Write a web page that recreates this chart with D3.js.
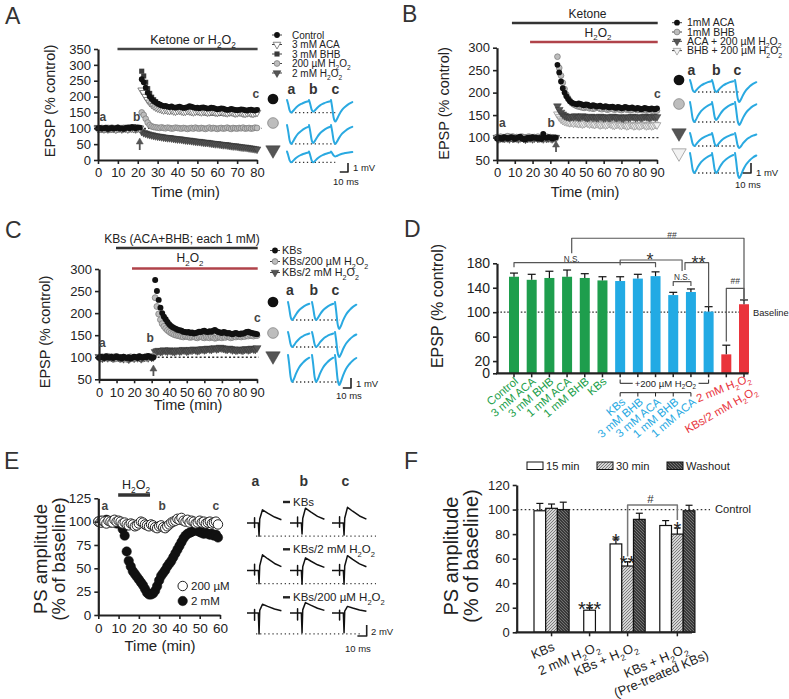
<!DOCTYPE html>
<html><head><meta charset="utf-8">
<script src="https://cdn.jsdelivr.net/npm/d3@7/dist/d3.min.js"></script>
<style>html,body{margin:0;padding:0;background:#fff;}svg{display:block}</style>
</head><body>
<svg id="fig" width="789" height="699" viewBox="0 0 789 699"></svg>
<script>
// ================= DATA =================
// Panel A : EPSP (% control), one value per minute (0..80)
const aControl = [100,101,99,100,102,98,100,101,99,100,103,99,100,98,101,102,100,104,101,100,103,102,
255,245,228,212,200,192,186,182,178,175,172,170,171,168,167,169,166,165,167,168,
166,164,165,167,170,168,166,164,165,163,165,166,164,162,163,165,164,162,160,161,
163,162,160,158,159,161,160,158,157,158,160,159,157,156,158,159,157,156,158];
const aACA3 = [99,100,101,98,100,102,99,100,101,97,100,101,99,102,100,98,101,100,99,102,101,100,
220,212,200,190,182,176,171,167,164,162,160,158,159,157,156,158,155,154,156,157,
155,153,154,156,155,153,152,154,155,153,152,154,153,151,152,154,153,151,150,152,
153,151,150,149,151,152,150,148,149,151,150,148,147,149,150,148,147,149,150];
const aBHB3 = [101,99,100,102,99,100,98,101,100,102,99,100,101,100,99,103,101,99,105,102,100,101,
280,265,245,225,210,198,190,184,178,174,170,167,165,163,161,160,158,157,156,155,
156,154,153,155,154,152,151,153,152,150,151,150,149,151,150,148,149,150,148,147,
149,150,148,147,149,150,151,152,150,153,155,154,152,153,155,156,154,155,157];
const aH200 = [100,98,101,100,99,101,100,102,98,100,101,99,100,101,98,100,102,100,99,101,100,99,
150,142,130,118,110,106,104,103,102,101,103,101,100,102,101,99,100,102,101,100,
99,101,100,98,100,101,99,102,100,99,101,100,98,100,102,99,101,100,98,100,
101,99,100,102,100,98,101,100,99,101,100,102,99,100,101,99,100,102,101];
const aH2m = [102,100,99,101,100,98,101,100,99,102,100,101,98,100,102,99,101,103,100,98,101,100,
90,86,84,82,80,79,77,76,75,74,73,72,71,70,70,69,68,67,66,66,
65,64,63,62,62,61,60,59,58,58,57,56,55,55,54,53,52,51,51,50,
49,48,48,47,46,45,44,44,43,42,41,40,40,39,38,37,36,35,34];
const aLegend = ["Control","3 mM ACA","3 mM BHB","200 µM  H{2}O{2}","2 mM  H{2}O{2}"];

// Panel B : minute 0..90
const bACA1 = [98,100,99,97,101,100,98,99,101,100,97,99,100,102,98,97,96,99,100,98,101,99,100,98,99,97,108,100,99,101,100,98,99,100,
262,245,225,210,200,192,186,181,178,176,175,174,176,175,173,172,174,173,171,170,
172,171,169,170,171,169,168,170,169,167,168,169,167,166,168,167,165,166,168,167,
165,166,167,165,164,166,165,163,164,166,165,164,163,165,164,163,165];
const bBHB1 = [101,99,102,100,98,101,103,100,99,102,100,101,99,98,102,100,99,101,102,100,98,101,100,102,99,101,100,98,102,100,101,99,100,98,
280,255,238,222,208,196,188,182,177,174,172,170,169,168,167,166,168,167,165,166,
164,165,167,166,164,163,165,164,162,163,165,164,162,163,164,162,161,163,164,162,
163,161,162,164,163,161,162,163,161,162,160,161,162,160,159,161,160];
const bACAH = [100,97,99,101,98,100,99,97,100,98,99,101,97,99,100,98,96,98,100,99,97,99,101,98,100,99,97,100,98,99,101,97,99,100,
170,162,156,152,149,147,146,145,147,146,148,147,145,146,148,147,145,144,146,147,
145,146,144,145,147,146,144,145,146,144,145,147,146,144,145,146,144,143,145,146,
144,145,147,146,144,145,146,144,145,147,146,145,144,146,147,145,146];
const bBHBH = [99,101,100,98,102,99,100,103,101,99,100,98,101,102,100,99,101,100,98,102,101,99,100,101,98,100,102,99,101,100,98,101,100,99,
152,146,141,138,136,135,134,133,134,132,133,132,131,132,130,131,133,132,130,131,
130,129,131,130,128,129,130,128,129,131,130,128,127,129,130,128,127,129,128,126,
127,129,128,126,127,128,126,127,129,128,126,127,128,126,127,129,128];
const bLegend = ["1mM ACA","1mM BHB","ACA + 200 µM H{2}O{2}","BHB + 200 µM H{2}O{2}"];

// Panel C : minute 0..90
const cKBs = [99,101,100,98,102,100,99,101,98,100,102,99,100,97,101,99,98,100,97,99,101,100,98,102,100,99,101,100,103,101,99,100,
275,250,230,212,200,192,186,180,175,171,168,166,164,162,161,160,158,157,156,157,
155,156,154,155,156,158,157,159,160,158,157,159,158,160,162,159,157,156,155,157,
156,154,155,153,152,154,155,153,152,154,153,155,157,158,156,155,154,153,152];
const cKBs200 = [100,98,101,99,100,102,98,100,99,101,97,100,99,98,100,96,98,99,101,97,99,98,100,101,99,100,98,102,100,99,101,102,
235,215,198,185,176,170,165,161,158,155,153,151,150,149,148,147,146,148,147,146,
145,146,147,145,144,146,147,145,144,146,145,144,146,145,143,144,146,145,144,146,
145,147,146,144,145,147,146,148,147,146,148,147,149,148,150,149,148,150,149];
const cKBs2m = [101,99,98,100,101,99,102,100,98,99,101,100,98,99,97,100,98,96,99,100,98,101,99,100,97,99,100,101,99,102,100,101,
112,114,115,113,114,116,115,114,116,115,114,113,115,116,114,115,117,116,114,115,
117,116,118,117,115,116,118,119,117,118,120,119,118,120,121,119,120,122,121,120,
119,118,120,119,117,118,116,117,118,117,116,118,119,117,118,120,119,118,121];
const cLegend = ["KBs","KBs/200 µM H{2}O{2}","KBs/2 mM H{2}O{2}"];

// EPSP trace amplitudes (mV) [row][a,b,c]
const aTraceAmp = [[1.4,1.3,2.4],[2.1,2.0,2.1],[1.2,1.2,0.55]];
const bTraceAmp = [[1.2,1.2,2.2],[2.0,1.8,2.3],[1.3,1.3,1.5],[2.0,2.0,2.5]];
const cTraceAmp = [[1.8,1.8,2.7],[1.5,1.5,2.5],[2.7,2.7,3.0]];
// normalised EPSP waveform (time fraction, depth fraction)
const epspShape = [[0,0],[0.05,0.3],[0.12,0.8],[0.2,1],[0.27,0.9],[0.38,0.68],[0.52,0.46],[0.68,0.3],[0.84,0.18],[1,0.1]];

// Panel D : bar chart
const dLabels = ["Control","3 mM ACA","3 mM BHB","1 mM ACA","1 mM BHB","KBs","KBs","3 mM BHB","3 mM ACA","1 mM BHB","1 mM ACA","","2 mM H{2}O{2}","KBs/2 mM H{2}O{2}"];
const dGroup  = ["g","g","g","g","g","g","b","b","b","b","b","b","r","r"];
const dValues = [158,153,156,158,156,152,151,155,159,128,133,101,31,113];
const dErrors = [6,9,11,11,7,6,7,7,7,4.5,5,8,15,7];
const dTicks  = [0,20,60,100,140,180];

// Panel E : PS amplitude (% of baseline), minute 0..59
const e200uM = [100,99,101,100,98,101,100,99,102,100,101,100,98,99,97,96,98,97,95,96,
98,100,99,97,96,95,97,96,94,93,95,96,94,93,95,97,99,100,101,103,
102,104,101,100,102,99,101,100,98,99,101,99,100,98,99,100,98,99,100,97];
const e2mM = [100,101,99,100,102,100,99,101,100,98,99,97,92,85,68,58,52,47,44,41,
38,35,32,28,24,22,22,23,26,31,37,42,45,48,52,55,58,62,66,70,
74,78,82,85,87,88,89,90,91,90,89,88,87,88,87,86,87,85,86,83];
// PS traces (mV) [row][a,b,c]
const eRowLabels = ["KBs","KBs/2 mM H{2}O{2}","KBs/200 µM H{2}O{2}"];
const ePeak  = [[2.4,2.7,2.85],[2.85,2.3,2.7],[1.6,1.9,1.2]];
const eSpike = [[2.4,2.0,2.2],[2.4,2.5,2.5],[3.8,3.6,3.6]];
const psShape = [[0,0],[0.22,0],[0.22,0.4],[0.22,-0.35],[0.22,0],[0.33,0],[0.35,-1],[0.37,0.3],[0.45,1],[0.6,0.75],[0.8,0.45],[1,0.25]];

// Panel F : grouped bars
const fGroups = ["KBs","2 mM H{2}O{2}","KBs + H{2}O{2}","KBs + H{2}O{2}|(Pre-treated KBs)"];
const fSeries = ["15 min","30 min","Washout"];
const fValues = [[99,101,100],[18],[72,54,92],[87,80,99]];
const fErrors = [[6,3.5,6],[2],[4,3.5,5],[4,5,4.5]];
const fStars  = [[null,null,null],["***"],["*","**",null],[null,"*",null]];
const fTicks  = [0,20,40,60,80,100,120];

// ================= DRAWING =================
const svg = d3.select('#fig');
const FONT = "'Liberation Sans', Arial, Helvetica, sans-serif";
const INK = '#222';
const CYAN = '#29a9e1';

function rich(sel, str, fs) {
  const parts = str.split(/(\{[^}]*\})/).filter(p => p.length);
  let shifted = false; const sh = fs * 0.3;
  parts.forEach(p => {
    if (p[0] === '{') {
      sel.append('tspan').attr('dy', shifted ? 0 : sh).attr('font-size', fs * 0.66).text(p.slice(1, -1));
      shifted = true;
    } else {
      sel.append('tspan').attr('dy', shifted ? -sh : 0).attr('font-size', fs).text(p);
      shifted = false;
    }
  });
  return sel;
}
function text(x, y, str, fs, o = {}) {
  const t = svg.append('text').attr('x', x).attr('y', y)
    .attr('font-family', FONT).attr('font-size', fs)
    .attr('fill', o.fill || INK).attr('text-anchor', o.anchor || 'start');
  if (o.weight) t.attr('font-weight', o.weight);
  if (o.transform) t.attr('transform', o.transform);
  rich(t, str, fs);
  return t;
}
function line(x1, y1, x2, y2, o = {}) {
  const l = svg.append('line').attr('x1', x1).attr('y1', y1).attr('x2', x2).attr('y2', y2)
    .attr('stroke', o.stroke || INK).attr('stroke-width', o.sw || 1);
  if (o.dash) l.attr('stroke-dasharray', o.dash);
  return l;
}
function path(d, o = {}) {
  return svg.append('path').attr('d', d).attr('fill', o.fill || 'none')
    .attr('stroke', o.stroke || INK).attr('stroke-width', o.sw || 1)
    .attr('stroke-linejoin', 'round').attr('stroke-linecap', o.cap || 'butt');
}
const symTypes = {circle: d3.symbolCircle, tri: d3.symbolTriangle, square: d3.symbolSquare};
function sym(g, s, x, y, size) {
  g.append('path').attr('d', d3.symbol().type(symTypes[s.sym]).size(size)())
    .attr('transform', `translate(${x},${y})` + (s.sym === 'tri' ? ' rotate(180)' : ''))
    .attr('fill', s.fill).attr('stroke', s.stroke || 'none').attr('stroke-width', s.sw || 0.7);
}
function styleAxis(g, fs) {
  g.attr('font-family', FONT).attr('font-size', fs);
  g.select('.domain').attr('stroke', INK).attr('stroke-width', 2.2);
  g.selectAll('.tick line').attr('stroke', INK).attr('stroke-width', 1.6);
  g.selectAll('.tick text').attr('fill', INK);
}
function panelLetter(x, y, L) { text(x, y, L, 23, {fill: '#333'}); }
function yLabel(x, y, str, fs) { text(0, 0, str, fs, {anchor: 'middle', transform: `translate(${x},${y}) rotate(-90)`}); }

function tsPanel(o) {
  const x = d3.scaleLinear().domain(o.xd).range(o.xr);
  const y = d3.scaleLinear().domain(o.yd).range(o.yr);
  const g = svg.append('g');
  if (o.dot) g.append('line').attr('x1', x(o.dot[0])).attr('x2', x(o.dot[1]))
      .attr('y1', y(100)).attr('y2', y(100)).attr('stroke', '#333')
      .attr('stroke-width', 1.3).attr('stroke-dasharray', '2,2.2');
  o.series.slice().reverse().forEach(s => s.vals.forEach((v, i) => sym(g, s, x(i), y(v), o.size)));
  svg.append('g').attr('transform', `translate(0,${o.yr[0]})`)
    .call(d3.axisBottom(x).tickValues(o.xt).tickSize(4).tickSizeOuter(0).tickPadding(4)).call(styleAxis, o.fs);
  svg.append('g').attr('transform', `translate(${o.xr[0]},0)`)
    .call(d3.axisLeft(y).tickValues(o.yt).tickSize(4).tickSizeOuter(0).tickPadding(3)).call(styleAxis, o.fs);
  return {x, y};
}
function arrow(x, yTip, yBase) {
  line(x, yTip + 4, x, yBase, {stroke: '#555', sw: 1.8});
  path(`M${x - 3.5},${yTip + 6}L${x},${yTip}L${x + 3.5},${yTip + 6}Z`, {fill: '#555', stroke: '#555', sw: 0.5});
}
function legend(items, xs, ys, xt, fs) {
  const g = svg.append('g');
  items.forEach((s, i) => {
    g.append('line').attr('x1', xs - 5).attr('x2', xs + 5).attr('y1', ys[i]).attr('y2', ys[i]).attr('stroke', '#444').attr('stroke-width', 1);
    sym(g, s, xs, ys[i], 26);
    text(xt, ys[i] + fs * 0.36, s.label, fs);
  });
}
function epspTraces(o) {
  const w = o.dur * o.pxMs;
  const gen = d3.line().curve(d3.curveMonotoneX);
  o.amps.forEach((row, r) => {
    line(o.x0[0] + 0.2 * w, o.top[r] + row[0] * o.pxMv, o.x0[2] + 0.2 * w, o.top[r] + row[0] * o.pxMv, {stroke: '#333', sw: 1.3, dash: '1.3,2.6'});
    row.forEach((a, c) => {
      const pts = epspShape.map(([t, v]) => [o.x0[c] + t * w, o.top[r] + v * a * o.pxMv]);
      path(gen(pts), {stroke: CYAN, sw: 2, cap: 'round'});
    });
    sym(svg, o.syms[r], o.symX, o.symY[r], 90);
  });
  ['a', 'b', 'c'].forEach((L, i) => text(o.labX[i], o.labY, L, 14, {weight: 'bold', fill: '#333'}));
  const [cx, cy] = o.bar;
  path(`M${cx},${cy - o.pxMv}V${cy}H${cx - 10 * o.pxMs}`, {sw: 1.6});
  text(cx + 5, o.mvY, '1 mV', 9.5);
  text(o.msX, o.msY, '10 ms', 9.5);
}

// ---------- Panel A ----------
panelLetter(5, 24, 'A');
const symA = [
  {sym: 'circle', fill: '#111', label: aLegend[0], vals: aControl},
  {sym: 'tri', fill: '#fff', stroke: '#666', sw: 0.8, label: aLegend[1], vals: aACA3},
  {sym: 'square', fill: '#3a3a3a', label: aLegend[2], vals: aBHB3},
  {sym: 'circle', fill: '#bdbdbd', stroke: '#777', sw: 0.7, label: aLegend[3], vals: aH200},
  {sym: 'tri', fill: '#555', stroke: '#333', sw: 0.5, label: aLegend[4], vals: aH2m}];
const A = tsPanel({xd: [0, 80], xr: [98, 257], yd: [0, 350], yr: [160, 49], xt: d3.range(0, 81, 10), yt: d3.range(0, 351, 50),
  series: symA, size: 26, fs: 13, dot: [21, 82.5]});
line(A.x(9.8), 49, A.x(80.3), 49, {stroke: '#444', sw: 2.6});
text(193, 44, 'Ketone or H{2}O{2}', 12.5, {anchor: 'middle'});
yLabel(55, 101, 'EPSP (% control)', 14.5);
text(185.5, 197, 'Time (min)', 14.5, {anchor: 'middle'});
text(99.5, 121, 'a', 12, {weight: 'bold', fill: '#444'});
text(133, 121, 'b', 12, {weight: 'bold', fill: '#444'});
text(252.5, 98, 'c', 12, {weight: 'bold', fill: '#444'});
arrow(A.x(21), 138, 150);
legend(symA, 277, [35, 44.5, 54, 63.5, 73], 292, 10);
epspTraces({x0: [287, 309, 331], top: [100, 125, 151.5], amps: aTraceAmp, pxMv: 9, pxMs: 0.82, dur: 26,
  syms: [symA[0], symA[3], symA[4]], symX: 273, symY: [99, 123, 150],
  labX: [287.5, 309, 331.5], labY: 94, bar: [348, 172], mvY: 171, msX: 333, msY: 185});

// ---------- Panel B ----------
panelLetter(402, 22, 'B');
const symB = [
  {sym: 'circle', fill: '#111', label: bLegend[0], vals: bACA1},
  {sym: 'circle', fill: '#bdbdbd', stroke: '#777', sw: 0.7, label: bLegend[1], vals: bBHB1},
  {sym: 'tri', fill: '#555', stroke: '#333', sw: 0.5, label: bLegend[2], vals: bACAH},
  {sym: 'tri', fill: '#f2f2f2', stroke: '#999', sw: 0.8, label: bLegend[3], vals: bBHBH}];
const B = tsPanel({xd: [0, 90], xr: [497, 657], yd: [50, 300], yr: [160, 47.7], xt: d3.range(0, 91, 10), yt: d3.range(50, 301, 50),
  series: symB, size: 26, fs: 13, dot: [33, 91]});
line(B.x(8.4), 23, B.x(90.4), 23, {stroke: '#333', sw: 2.6});
text(587.5, 18, 'Ketone', 12, {anchor: 'middle'});
line(B.x(18.6), 42, B.x(90.4), 42, {stroke: '#b0434a', sw: 2.6});
text(598, 36.5, 'H{2}O{2}', 12, {anchor: 'middle'});
yLabel(448.5, 103.5, 'EPSP (% control)', 14.5);
text(585, 197, 'Time (min)', 14.5, {anchor: 'middle'});
text(499, 127, 'a', 12, {weight: 'bold', fill: '#444'});
text(547.5, 127, 'b', 12, {weight: 'bold', fill: '#444'});
text(654, 97.5, 'c', 12, {weight: 'bold', fill: '#444'});
arrow(B.x(33.2), 141, 152);
legend(symB, 677, [22.7, 32, 41.3, 50.6], 687, 10.5);
epspTraces({x0: [690, 712, 735], top: [80, 102, 133, 153], amps: bTraceAmp, pxMv: 10, pxMs: 0.82, dur: 26,
  syms: symB, symX: 679, symY: [80, 104, 133, 153],
  labX: [687.5, 712, 733.5], labY: 75, bar: [751, 173], mvY: 176, msX: 735, msY: 188});

// ---------- Panel C ----------
panelLetter(5, 238, 'C');
const symC = [
  {sym: 'circle', fill: '#111', label: cLegend[0], vals: cKBs},
  {sym: 'circle', fill: '#bdbdbd', stroke: '#777', sw: 0.7, label: cLegend[1], vals: cKBs200},
  {sym: 'tri', fill: '#555', stroke: '#333', sw: 0.5, label: cLegend[2], vals: cKBs2m}];
const C = tsPanel({xd: [0, 90], xr: [99, 257], yd: [50, 300], yr: [379.3, 269], xt: d3.range(0, 91, 10), yt: d3.range(50, 301, 50),
  series: symC, size: 28, fs: 13, dot: [31, 91]});
line(C.x(9.7), 248, C.x(90.4), 248, {stroke: '#333', sw: 2.6});
text(182, 242.5, 'KBs (ACA+BHB; each 1 mM)', 12, {anchor: 'middle'});
line(C.x(18.8), 268.5, C.x(90.4), 268.5, {stroke: '#b0434a', sw: 2.6});
text(190, 262, 'H{2}O{2}', 12, {anchor: 'middle'});
yLabel(50, 332, 'EPSP (% control)', 14.5);
text(188, 410, 'Time (min)', 14.5, {anchor: 'middle'});
text(99, 347, 'a', 12, {weight: 'bold', fill: '#444'});
text(146.5, 342, 'b', 12, {weight: 'bold', fill: '#444'});
text(254, 322, 'c', 12, {weight: 'bold', fill: '#444'});
arrow(C.x(31), 365, 376);
legend(symC, 275, [250.5, 261.5, 272.5], 282, 10.8);
epspTraces({x0: [288, 312, 335], top: [302, 332, 355], amps: cTraceAmp, pxMv: 10, pxMs: 0.82, dur: 26,
  syms: symC, symX: 273, symY: [302, 333, 356],
  labX: [286, 309.5, 331.5], labY: 295, bar: [351, 388], mvY: 387, msX: 336, msY: 398.5});

// ---------- Panel D ----------
panelLetter(404, 237, 'D');
const dColor = {g: '#1e9e4d', b: '#22aae4', r: '#ea343b'};
const dLabColor = {g: '#23a04c', b: '#2aaae2', r: '#e8343c'};
const dx = d3.scalePoint().domain(d3.range(dValues.length)).range([514, 744]);
const dy = d3.scaleLinear().domain([0, 180]).range([373.3, 263.3]);
line(497, dy(100), 748.5, dy(100), {stroke: '#333', sw: 1.2, dash: '1.6,1.8'});
dValues.forEach((v, i) => {
  svg.append('rect').attr('x', dx(i) - 5).attr('y', dy(v)).attr('width', 10).attr('height', dy(0) - dy(v)).attr('fill', dColor[dGroup[i]]);
  line(dx(i), dy(v), dx(i), dy(v + dErrors[i]), {sw: 1.2, stroke: '#111'});
  line(dx(i) - 4, dy(v + dErrors[i]), dx(i) + 4, dy(v + dErrors[i]), {sw: 1.2, stroke: '#111'});
});
svg.append('g').attr('transform', 'translate(497,0)')
  .call(d3.axisLeft(dy).tickValues(dTicks).tickSize(4).tickSizeOuter(0).tickPadding(3)).call(styleAxis, 14);
line(496, dy(0), 748.5, dy(0), {sw: 2.2});
dValues.forEach((v, i) => line(dx(i), dy(0), dx(i), dy(0) + 4, {sw: 1.5}));
text(753, 316, 'Baseline', 9.3);
yLabel(443, 306, 'EPSP (% control)', 16);
// category labels
dLabels.forEach((L, i) => {
  if (!L) return;
  let tr;
  if (dGroup[i] === 'g') tr = `translate(${dx(i) + 5},382.5) rotate(-40)`;
  else if (dGroup[i] === 'b') tr = `translate(${dx(i) + 6},403) rotate(-40)`;
  else tr = i === 12 ? `translate(${dx(i) + 25},381) rotate(-22)` : `translate(${dx(i) + 14},393) rotate(-30)`;
  text(0, 0, L, 11.4, {anchor: 'end', fill: dLabColor[dGroup[i]], transform: tr});
});
// +200 uM H2O2 bracket
path(`M${dx(6)},379.5V383.3H${dx(11)}V379.5`, {sw: 1});
const brT = text((dx(6) + dx(11)) / 2 + 1, 386.5, '+200 µM H{2}O{2}', 9.5, {anchor: 'middle'});
const bb = brT.node().getBBox();
svg.insert('rect', () => brT.node()).attr('x', bb.x - 2).attr('y', bb.y).attr('width', bb.width + 4).attr('height', bb.height).attr('fill', '#fff');
path(`M${dx(6)},396.5V392.7H${dx(10)}V396.5`, {sw: 1});
[7, 8, 9].forEach(i => line(dx(i), 392.7, dx(i), 396.5, {sw: 1}));
// significance brackets
const BR = {stroke: '#555', sw: 1.2};
path(`M${dx(0)},${dy(173.5)}V${dy(181)}H${dx(8)}V${dy(173.5)}`, BR);
text(571.7, 261.5, 'N.S.', 8.2, {anchor: 'middle', fill: '#333'});
path(`M571.7,${dy(196.5)}V${dy(221)}H${dx(13)}V${dy(120.5)}`, BR);
text(672, 237.5, '##', 8.5, {anchor: 'middle', fill: '#333'});
path(`M${dx(6)},${dy(177)}V${dy(185.4)}H${(dx(9) + dx(10)) / 2}V${dy(167.5)}`, BR);
text(650, 266, '*', 18, {anchor: 'middle', fill: '#333'});
path(`M${dx(9)},${dy(143)}V${dy(150)}H${dx(10)}V${dy(143)}`, BR);
text((dx(9) + dx(10)) / 2, 279.5, 'N.S.', 8.2, {anchor: 'middle', fill: '#333'});
path(`M685,${dy(169)}V${dy(181)}H${dx(11)}V${dy(109.5)}`, BR);
text(698.5, 268.5, '**', 18, {anchor: 'middle', fill: '#333'});
path(`M${dx(12)},${dy(52)}V${dy(139)}H${dx(13)}V${dy(121)}`, BR);
text((dx(12) + dx(13)) / 2, 284, '##', 8.5, {anchor: 'middle', fill: '#333'});

// ---------- Panel E ----------
panelLetter(4, 469, 'E');
const symE = [
  {sym: 'circle', fill: '#fff', stroke: '#222', sw: 1, label: '200 µM', vals: e200uM},
  {sym: 'circle', fill: '#111', stroke: '#111', sw: 0.5, label: '2 mM', vals: e2mM}];
const E = tsPanel({xd: [0, 60], xr: [98.3, 220], yd: [0, 125], yr: [615, 498.3], xt: d3.range(0, 61, 10), yt: d3.range(0, 126, 25),
  series: symE, size: 70, fs: 13.5});
line(E.x(9.8), 495, E.x(25.5), 495, {stroke: '#333', sw: 3.5});
text(136, 489, 'H{2}O{2}', 12.5, {anchor: 'middle'});
text(0, 0, 'PS amplitude', 18.5, {anchor: 'middle', transform: 'translate(47,559) rotate(-90)'});
text(0, 0, '(% of baseline)', 18.5, {anchor: 'middle', transform: 'translate(65,559) rotate(-90)'});
text(160, 651, 'Time (min)', 15, {anchor: 'middle'});
text(101.5, 510, 'a', 12, {weight: 'bold', fill: '#444'});
text(158.5, 510, 'b', 12, {weight: 'bold', fill: '#444'});
text(212.5, 510, 'c', 12, {weight: 'bold', fill: '#444'});
symE.forEach((s, i) => { sym(svg, s, 182.7, 586 + i * 15, 70); text(191, 590 + i * 15, s.label, 11.5); });
// PS traces
(function () {
  const x0 = [247, 290, 332], base = [523, 570.5, 613], pxMv = 5.5, pxMs = 0.93, w = 37 * pxMs;
  ['a', 'b', 'c'].forEach((L, i) => text([251.5, 299.5, 341.5][i], 486, L, 14, {weight: 'bold', fill: '#333'}));
  eRowLabels.forEach((L, r) => {
    const ly = [502, 549.3, 597.3][r];
    line(283, ly, 290, ly, {sw: 2.4, stroke: '#222'});
    text(293, ly + 4, L, 11.5);
    line(256, base[r] + eSpike[r][0] * pxMv, r === 2 ? 362 : 376, base[r] + eSpike[r][0] * pxMv, {stroke: '#444', sw: 1.3, dash: '1.3,2.8'});
    [0, 1, 2].forEach(c => {
      const pts = psShape.map(([t, v]) => [x0[c] + t * w, base[r] - (v >= 0 ? v * ePeak[r][c] : v * eSpike[r][c]) * pxMv]);
      path(d3.line()(pts), {stroke: '#111', sw: 1.5});
    });
  });
  path(`M366.7,${636 - 2 * pxMv}V636H${366.7 - 10 * pxMs}`, {sw: 1.6});
  text(371, 635, '2 mV', 9.5);
  text(345, 651.5, '10 ms', 9.5);
})();

// ---------- Panel F ----------
panelLetter(404, 469, 'F');
const defs = svg.append('defs');
const p30 = defs.append('pattern').attr('id', 'p30').attr('patternUnits', 'userSpaceOnUse').attr('width', 3).attr('height', 3);
p30.append('rect').attr('width', 3).attr('height', 3).attr('fill', '#d4d4d4');
p30.append('path').attr('d', 'M0,3L3,0M-1,1L1,-1M2,4L4,2').attr('stroke', '#555').attr('stroke-width', 0.7);
const pW = defs.append('pattern').attr('id', 'pW').attr('patternUnits', 'userSpaceOnUse').attr('width', 3).attr('height', 3);
pW.append('rect').attr('width', 3).attr('height', 3).attr('fill', '#3a3a3a');
pW.append('path').attr('d', 'M0,0L3,3M2,-1L4,1M-1,2L1,4').attr('stroke', '#9a9a9a').attr('stroke-width', 0.6);
const fFill = ['#fff', 'url(#p30)', 'url(#pW)'];
const fy = d3.scaleLinear().domain([0, 120]).range([632.3, 485]);
const gapSlots = 1.25;
const fStart = []; let cur = 0;
fValues.forEach(v => { fStart.push(cur); cur += v.length + gapSlots; });
const fx = d3.scaleLinear().domain([0, cur - gapSlots]).range([534, 694.9]);
line(516.7, fy(100), 710, fy(100), {stroke: '#333', sw: 1.2, dash: '1.6,2.4'});
text(715, 513, 'Control', 11.2);
fValues.forEach((vals, g) => {
  vals.forEach((v, k) => {
    const x1 = fx(fStart[g] + k), x2 = fx(fStart[g] + k + 1), xc = (x1 + x2) / 2;
    svg.append('rect').attr('x', x1).attr('y', fy(v)).attr('width', x2 - x1).attr('height', fy(0) - fy(v))
      .attr('fill', fFill[k]).attr('stroke', '#111').attr('stroke-width', 1.2);
    const et = fy(v + fErrors[g][k]);
    line(xc, fy(v), xc, et, {sw: 1.2, stroke: '#111'});
    line(xc - 3.5, et, xc + 3.5, et, {sw: 1.2, stroke: '#111'});
    if (fStars[g][k]) text(xc, et + 8.5, fStars[g][k], 20, {anchor: 'middle', fill: '#222'});
  });
});
svg.append('g').attr('transform', 'translate(516.7,0)')
  .call(d3.axisLeft(fy).tickValues(fTicks).tickSize(4).tickSizeOuter(0).tickPadding(3)).call(styleAxis, 13);
line(515.7, fy(0), 692, fy(0), {sw: 2.2});
fGroups.forEach((G, g) => {
  const xc = fx(fStart[g] + fValues[g].length / 2);
  line(xc, fy(0), xc, fy(0) + 4, {sw: 1.5});
  const lines = G.split('|');
  if (lines.length === 1) {
    text(0, 0, lines[0], 13, {anchor: 'end', transform: `translate(${xc + (g === 0 ? 4 : 11)},650) rotate(-23)`});
  } else {
    text(0, 0, lines[0], 13, {anchor: 'middle', transform: `translate(${xc - 20},665) rotate(-23)`});
    text(0, 0, lines[1], 13, {anchor: 'middle', transform: `translate(${xc - 14.5},678) rotate(-23)`});
  }
});
const g3 = fStart[2], g4 = fStart[3];
path(`M${(fx(g3 + 1) + fx(g3 + 2)) / 2},556.5V505H${(fx(g4 + 1) + fx(g4 + 2)) / 2}V520`, {stroke: '#777', sw: 1.5});
text(650.5, 502.5, '#', 11.5, {anchor: 'middle', fill: '#333'});
fSeries.forEach((s, k) => {
  const lx = [527, 597, 667][k];
  svg.append('rect').attr('x', lx).attr('y', 462).attr('width', 16).attr('height', 7.5).attr('fill', fFill[k]).attr('stroke', '#111').attr('stroke-width', 1);
  text(lx + 19, 469.5, s, 11.2);
});
text(0, 0, 'PS amplitude', 20, {anchor: 'middle', transform: 'translate(458,556) rotate(-90)'});
text(0, 0, '(% of baseline)', 20, {anchor: 'middle', transform: 'translate(478,556) rotate(-90)'});
</script>
</body></html>
